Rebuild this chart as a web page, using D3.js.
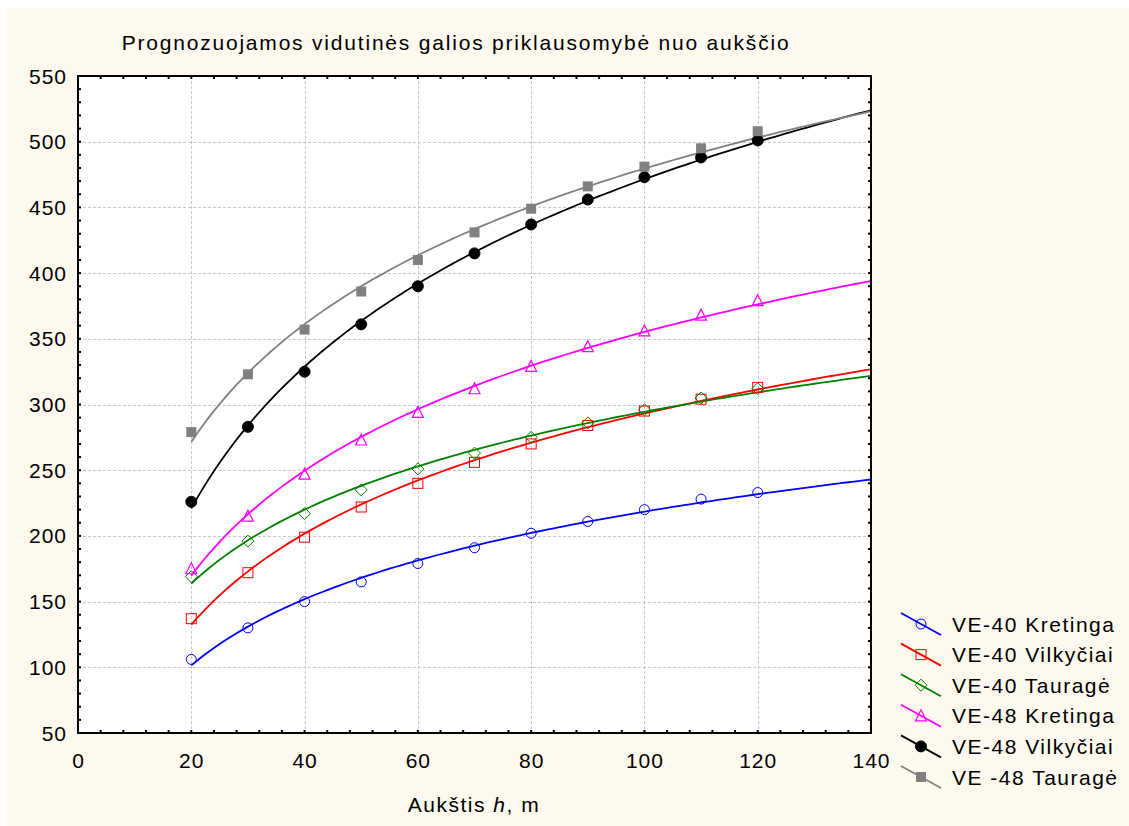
<!DOCTYPE html>
<html>
<head>
<meta charset="utf-8">
<script src="https://cdn.jsdelivr.net/npm/d3@7"></script>
<style>
  body { margin: 0; background: #ffffff; }
  svg { display: block; font-family: "Liberation Sans", Arial, sans-serif; }
</style>
</head>
<body>
<div id="chart"></div>
<script>
// heights (m) where the points sit
var heights = [20, 30, 40, 50, 60, 70, 80, 90, 100, 110, 120];

// mean power values
var ve40Kretinga  = [106, 130, 150, 165, 179, 191, 202, 211, 220, 228, 233];
var ve40Vilkyciai = [137, 172, 199, 222, 240, 256, 270, 284, 295, 304, 313];
var ve40Taurage   = [169, 196, 217, 235, 251, 263, 275, 286, 296, 305, 312];
var ve48Kretinga  = [175, 215, 247, 273, 294, 312, 329, 344, 356, 368, 379];
var ve48Vilkyciai = [226, 283, 325, 361, 390, 415, 437, 456, 473, 488, 501];
var ve48Taurage   = [279, 323, 357, 386, 410, 431, 449, 466, 481, 495, 508];

var seriesNames = ["VE-40 Kretinga", "VE-40 Vilkyčiai", "VE-40 Tauragė",
                   "VE-48 Kretinga", "VE-48 Vilkyčiai", "VE -48 Tauragė"];
var xTicks = [0, 20, 40, 60, 80, 100, 120, 140];
var yTicks = [50, 100, 150, 200, 250, 300, 350, 400, 450, 500, 550];

var series = [
  {name: seriesNames[0], values: ve40Kretinga,  color: "#0000ff", marker: "circle",   fill: false},
  {name: seriesNames[1], values: ve40Vilkyciai, color: "#ff0000", marker: "square",   fill: false},
  {name: seriesNames[2], values: ve40Taurage,   color: "#008000", marker: "diamond",  fill: false},
  {name: seriesNames[3], values: ve48Kretinga,  color: "#ff00ff", marker: "triangle", fill: false},
  {name: seriesNames[4], values: ve48Vilkyciai, color: "#000000", marker: "circle",   fill: true},
  {name: seriesNames[5], values: ve48Taurage,   color: "#808080", marker: "square",   fill: true}
];

var W = 1129, H = 826;
var svg = d3.select("#chart").append("svg").attr("width", W).attr("height", H);

// cream panel
svg.append("rect").attr("x", 7).attr("y", 8).attr("width", W - 7).attr("height", H - 8)
  .attr("fill", "#fdf9ee");

var x = d3.scaleLinear().domain([0, 140]).range([78, 871]);
var y = d3.scaleLinear().domain([50, 550]).range([733, 76]);

svg.append("rect").attr("x", x(0)).attr("y", y(550))
  .attr("width", x(140) - x(0)).attr("height", y(50) - y(550)).attr("fill", "#fff");

// grid
var grid = svg.append("g").attr("stroke", "#c8c8c8").attr("stroke-dasharray", "3,2").attr("stroke-width", 1);
grid.selectAll(".gx").data(xTicks.slice(1, -1)).enter().append("line")
  .attr("x1", d => Math.round(x(d)) + 0.5).attr("x2", d => Math.round(x(d)) + 0.5)
  .attr("y1", y(550)).attr("y2", y(50));
grid.selectAll(".gy").data(yTicks.slice(1, -1)).enter().append("line")
  .attr("y1", d => Math.round(y(d)) + 0.5).attr("y2", d => Math.round(y(d)) + 0.5)
  .attr("x1", x(0)).attr("x2", x(140));

// log fit y = a + b ln(h), least squares on the points
function logFit(vals) {
  var n = heights.length, sx = 0, sy = 0, sxx = 0, sxy = 0;
  heights.forEach(function(h, i) {
    var l = Math.log(h);
    sx += l; sy += vals[i]; sxx += l * l; sxy += l * vals[i];
  });
  var b = (n * sxy - sx * sy) / (n * sxx - sx * sx);
  var a = (sy - b * sx) / n;
  return function(h) { return a + b * Math.log(h); };
}

svg.append("clipPath").attr("id", "clip").append("rect")
  .attr("x", x(0)).attr("y", y(550)).attr("width", x(140) - x(0)).attr("height", y(50) - y(550));

var plot = svg.append("g").attr("clip-path", "url(#clip)");
var line = d3.line().x(d => x(d[0])).y(d => y(d[1]));

function drawMarker(g, s, cx, cy) {
  var fill = s.fill ? s.color : "none";
  if (s.marker == "circle") {
    g.append("circle").attr("cx", cx).attr("cy", cy).attr("r", s.fill ? 5.5 : 5)
      .attr("fill", fill).attr("stroke", s.color).attr("stroke-width", 1);
  } else if (s.marker == "square") {
    g.append("rect").attr("x", cx - 5).attr("y", cy - 5).attr("width", 10).attr("height", 10)
      .attr("fill", fill).attr("stroke", s.fill ? "none" : s.color).attr("stroke-width", 1);
  } else if (s.marker == "diamond") {
    g.append("path").attr("d", "M" + cx + "," + (cy - 6) + "L" + (cx + 6) + "," + cy + "L" + cx + "," + (cy + 6) + "L" + (cx - 6) + "," + cy + "Z")
      .attr("fill", fill).attr("stroke", s.color).attr("stroke-width", 1);
  } else if (s.marker == "triangle") {
    g.append("path").attr("d", "M" + cx + "," + (cy - 6) + "L" + (cx + 5.5) + "," + (cy + 5) + "L" + (cx - 5.5) + "," + (cy + 5) + "Z")
      .attr("fill", fill).attr("stroke", s.color).attr("stroke-width", 1.2);
  }
}

series.forEach(function(s) {
  var f = logFit(s.values);
  var pts = d3.range(20, 140.5, 1).map(h => [h, f(h)]);
  plot.append("path").attr("d", line(pts)).attr("fill", "none")
    .attr("stroke", s.color).attr("stroke-width", 1.8);
});
series.forEach(function(s) {
  var g = plot.append("g");
  heights.forEach(function(h, i) { drawMarker(g, s, x(h), y(s.values[i])); });
});

// frame + inward ticks on all sides
var axes = svg.append("g").attr("stroke", "#000");
axes.append("rect").attr("x", x(0)).attr("y", y(550)).attr("width", x(140) - x(0)).attr("height", y(50) - y(550))
  .attr("fill", "none").attr("stroke-width", 2);
var xMinor = d3.range(4, 140, 4);
var yMinor = d3.range(60, 550, 10);
axes.selectAll(".tb").data(xMinor).enter().append("line")
  .attr("x1", d => x(d)).attr("x2", d => x(d)).attr("y1", y(50)).attr("y2", y(50) - 3).attr("stroke-width", 2);
axes.selectAll(".tt").data(xMinor).enter().append("line")
  .attr("x1", d => x(d)).attr("x2", d => x(d)).attr("y1", y(550)).attr("y2", y(550) + 3).attr("stroke-width", 2);
axes.selectAll(".tl").data(yMinor).enter().append("line")
  .attr("y1", d => y(d)).attr("y2", d => y(d)).attr("x1", x(0)).attr("x2", x(0) + 3).attr("stroke-width", 2);
axes.selectAll(".tr").data(yMinor).enter().append("line")
  .attr("y1", d => y(d)).attr("y2", d => y(d)).attr("x1", x(140)).attr("x2", x(140) - 3).attr("stroke-width", 2);

// tick labels
svg.selectAll(".xl").data(xTicks).enter().append("text")
  .attr("x", d => x(d) + 0.5).attr("y", 768).attr("text-anchor", "middle")
  .attr("font-size", 21).attr("letter-spacing", 1).attr("fill", "#000").text(d => d);
svg.selectAll(".yl").data(yTicks).enter().append("text")
  .attr("x", 67).attr("y", d => y(d) + 7.5).attr("text-anchor", "end")
  .attr("font-size", 21).attr("letter-spacing", 1).attr("fill", "#000").text(d => d);

// title and axis title
svg.append("text").attr("x", 456).attr("y", 50).attr("text-anchor", "middle")
  .attr("font-size", 21).attr("letter-spacing", 1.8).attr("fill", "#000")
  .text("Prognozuojamos vidutinės galios priklausomybė nuo aukščio");
var xt = svg.append("text").attr("x", 474).attr("y", 812).attr("text-anchor", "middle")
  .attr("font-size", 21).attr("letter-spacing", 1.5).attr("fill", "#000");
xt.append("tspan").text("Aukštis ");
xt.append("tspan").attr("font-style", "italic").text("h");
xt.append("tspan").text(", m");

// legend
var legend = svg.append("g");
series.forEach(function(s, i) {
  var ly = 624 + i * 30.6;
  var g = legend.append("g");
  g.append("line").attr("x1", 901).attr("x2", 941).attr("y1", ly - 11).attr("y2", ly + 11)
    .attr("stroke", s.color).attr("stroke-width", 1.8);
  drawMarker(g, s, 921, ly);
  g.append("text").attr("x", 952).attr("y", ly + 7.5).attr("font-size", 21).attr("letter-spacing", 1.5)
    .attr("fill", "#000").text(s.name);
});
</script>
</body>
</html>
